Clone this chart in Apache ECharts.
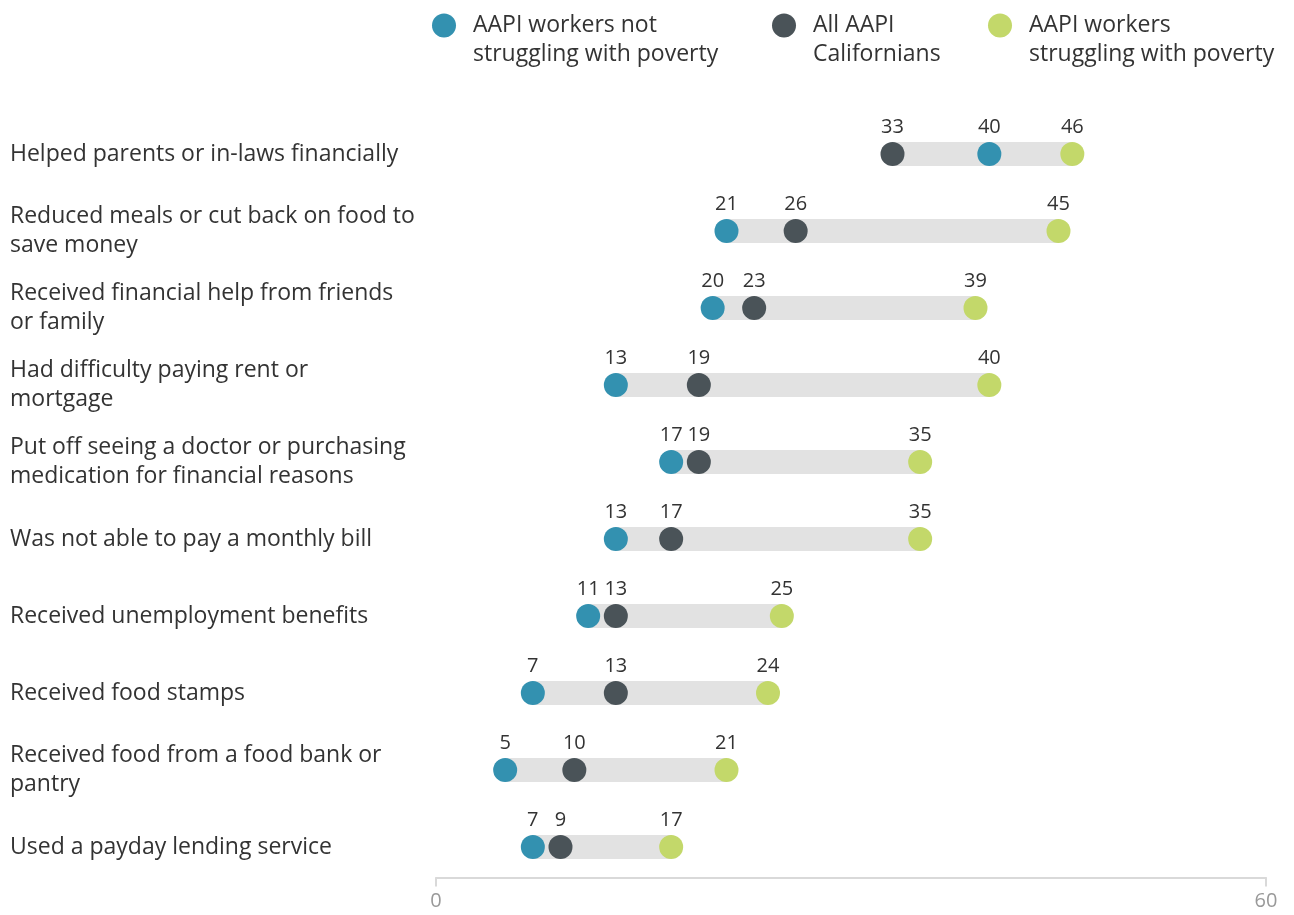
<!DOCTYPE html>
<html>
<head>
<meta charset="utf-8">
<title>Financial hardship among AAPI Californians</title>
<script src="https://cdn.jsdelivr.net/npm/echarts@6/dist/echarts.min.js"></script>
<style>
  html, body { margin: 0; padding: 0; background: #ffffff; }
  #chart { width: 1294px; height: 915px; }
</style>
</head>
<body>
<div id="chart"></div>
<script>
// Hardship experiences (percent), one row per category, top to bottom
const categories = [
  'Helped parents or in-laws financially',
  'Reduced meals or cut back on food to\nsave money',
  'Received financial help from friends\nor family',
  'Had difficulty paying rent or\nmortgage',
  'Put off seeing a doctor or purchasing\nmedication for financial reasons',
  'Was not able to pay a monthly bill',
  'Received unemployment benefits',
  'Received food stamps',
  'Received food from a food bank or\npantry',
  'Used a payday lending service'
];
const notStruggling = [40, 21, 20, 13, 17, 13, 11, 7, 5, 7];
const allAAPI       = [33, 26, 23, 19, 19, 17, 13, 13, 10, 9];
const struggling    = [46, 45, 39, 40, 35, 35, 25, 24, 21, 17];

const seriesNames = [
  'AAPI workers not\nstruggling with poverty',
  'All AAPI\nCalifornians',
  'AAPI workers\nstruggling with poverty'
];
const colors = ['#3391b0', '#4a5358', '#c3d86a'];
const axisTicks = [0, 60];

// Range bars: transparent offset up to the lowest value, grey span to the highest
const rangeLow = categories.map((_, i) => Math.min(notStruggling[i], allAAPI[i], struggling[i]));
const rangeHigh = categories.map((_, i) => Math.max(notStruggling[i], allAAPI[i], struggling[i]));
const rangeSpan = rangeHigh.map((h, i) => h - rangeLow[i]);

const textColor = '#333333';
const fontFamily = '"Open Sans", sans-serif';

// Legend marker: a circle sitting at the top of a taller box, so it lines up
// with the first line of the two-line legend text
const legendIcon = 'path://M0,12A12,12,0,1,1,24,12A12,12,0,1,1,0,12Z M12,53L12,53';

function dotSeries(name, values, color) {
  return {
    name: name,
    type: 'scatter',
    symbol: 'circle',
    symbolSize: 24,
    itemStyle: { color: color, opacity: 1 },
    label: {
      show: true,
      position: 'top',
      distance: 5,
      color: textColor,
      fontSize: 20,
      fontFamily: fontFamily,
      formatter: p => String(p.value[0])
    },
    emphasis: { disabled: true },
    z: 5,
    data: values.map((v, i) => [v, i])
  };
}

function legendFor(name, left) {
  return {
    data: [{ name: name, icon: legendIcon }],
    left: left,
    top: 6,
    orient: 'horizontal',
    itemWidth: 24,
    itemHeight: 53,
    selectedMode: false,
    textStyle: {
      color: textColor,
      fontSize: 23,
      fontFamily: fontFamily,
      lineHeight: 29,
      padding: [0, 0, 0, 12]
    }
  };
}

const chart = echarts.init(document.getElementById('chart'), null, { renderer: 'canvas' });

chart.setOption({
  animation: false,
  backgroundColor: '#ffffff',
  textStyle: { fontFamily: fontFamily },
  legend: [
    legendFor(seriesNames[0], 427),
    legendFor(seriesNames[1], 767),
    legendFor(seriesNames[2], 983)
  ],
  grid: { left: 436, right: 28, top: 115.5, height: 770, containLabel: false },
  xAxis: {
    type: 'value',
    min: axisTicks[0],
    max: axisTicks[1],
    interval: axisTicks[1] - axisTicks[0],
    offset: -8,
    splitLine: { show: false },
    axisLine: { show: true, lineStyle: { color: '#d9d9d9', width: 2 } },
    axisTick: { show: true, length: 9, lineStyle: { color: '#d9d9d9', width: 2 } },
    axisLabel: {
      color: '#999999',
      fontSize: 20,
      fontFamily: fontFamily,
      margin: 14
    }
  },
  yAxis: {
    type: 'category',
    inverse: true,
    data: categories,
    axisLine: { show: false },
    axisTick: { show: false },
    splitLine: { show: false },
    axisLabel: {
      align: 'left',
      margin: 426,
      color: textColor,
      fontSize: 23,
      lineHeight: 29,
      fontFamily: fontFamily
    }
  },
  series: [
    {
      name: 'offset',
      type: 'bar',
      stack: 'range',
      barWidth: 24,
      itemStyle: { color: 'transparent' },
      emphasis: { disabled: true },
      silent: true,
      data: rangeLow
    },
    {
      name: 'range',
      type: 'bar',
      stack: 'range',
      barWidth: 24,
      itemStyle: { color: '#e2e2e2' },
      emphasis: { disabled: true },
      silent: true,
      data: rangeSpan
    },
    dotSeries(seriesNames[0], notStruggling, colors[0]),
    dotSeries(seriesNames[1], allAAPI, colors[1]),
    dotSeries(seriesNames[2], struggling, colors[2])
  ]
});
</script>
</body>
</html>
